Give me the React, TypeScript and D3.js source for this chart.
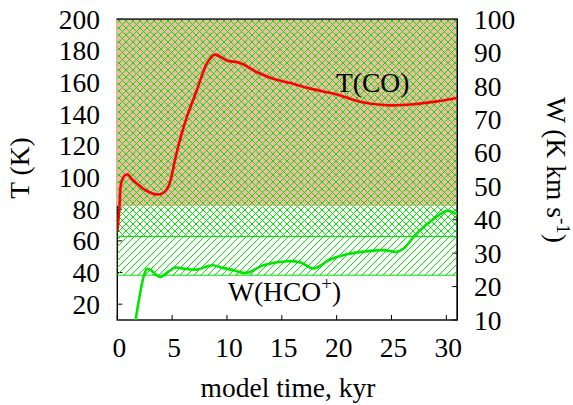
import React from "react";
import * as d3 from "d3";

// Axis ticks
const timeTicks = [0, 5, 10, 15, 20, 25, 30];
const tempTicks = [20, 40, 60, 80, 100, 120, 140, 160, 180, 200];
const widthTicks = [10, 20, 30, 40, 50, 60, 70, 80, 90, 100];

// T(CO), K, against model time (kyr)
const tcoTime = [0, 0.18, 0.37, 0.7, 1.0, 1.34, 2.0, 2.56, 3.2, 3.78, 4.3, 4.7, 5.0, 5.27, 5.8, 6.34, 7.25, 8.16, 8.77, 9.0, 9.99, 11.2, 12.7, 14.2, 15.8, 17.6, 20.0, 22.2, 24.6, 27.0, 29.2, 31.0];
const tcoValue = [65.7, 79.5, 97, 101.5, 101.8, 98.8, 95, 92, 90, 89.3, 90.8, 95, 102.5, 111.5, 126, 138.3, 155.2, 172, 177.3, 177.7, 174, 172.4, 166.7, 162.5, 159.7, 156.2, 152.5, 147.8, 145.7, 146.3, 148.2, 150.3];

// W(HCO+), K km/s, against model time (kyr)
const hcoTime = [1.6, 2.0, 2.4, 2.7, 3.0, 3.5, 3.95, 4.6, 5.3, 6.2, 7.3, 8.65, 9.6, 10.5, 11.8, 13.3, 15.5, 16.7, 17.9, 19.4, 20.95, 23.1, 24.3, 25.5, 26.1, 27.3, 28.9, 30.1, 30.8, 31.0];
const hcoValue = [8.5, 16.5, 23, 25.3, 25.1, 23.6, 22.9, 24.3, 25.7, 25.3, 25.1, 26.4, 25.6, 25.0, 24.1, 26.4, 27.6, 27.2, 25.4, 28.1, 29.7, 30.7, 30.9, 30.4, 31.4, 35.9, 40.4, 42.7, 41.9, 41.8];

// Shaded W ranges (K km/s): filled, cross-hatched and single-hatched floors
const filledFloor = 44.1;
const crossFloor = 35.0;
const hatchFloor = 23.4;

const W = 573;
const H = 405;
const left = 117.3;
const right = 457.3;
const top = 19.3;
const bottom = 320;

const FONT = "'Liberation Serif', 'DejaVu Serif', serif";
const FS = 27.5;
const GREEN = "#00e600";

export default function App() {
  const x = d3.scaleLinear().domain([0, 31]).range([left, right]);
  const yT = d3.scaleLinear().domain([10, 200]).range([bottom, top]);
  const yW = d3.scaleLinear().domain([10, 100]).range([bottom, top]);

  const line = d3
    .line<[number, number]>()
    .x((d) => d[0])
    .y((d) => d[1])
    .curve(d3.curveCatmullRom.alpha(0.5));

  const tcoPath = line(tcoTime.map((t, i) => [x(t), yT(tcoValue[i])]))!;
  const hcoPath = line(hcoTime.map((t, i) => [x(t), yW(hcoValue[i])]))!;

  const yFill = yW(filledFloor);
  const yCross = yW(crossFloor);
  const yHatch = yW(hatchFloor);

  return (
    <svg
      width={W}
      height={H}
      style={{ position: "absolute", left: 0, top: 0, background: "#fff" }}
      fontFamily={FONT}
    >
      <defs>
        <pattern id="hatchUp" patternUnits="userSpaceOnUse" width={7} height={7}>
          <path d="M0,7 L7,0 M-1,1 L1,-1 M6,8 L8,6" stroke={GREEN} strokeWidth={1} />
        </pattern>
        <pattern id="hatchDown" patternUnits="userSpaceOnUse" width={7} height={7}>
          <path d="M0,0 L7,7 M-1,6 L1,8 M6,-1 L8,1" stroke={GREEN} strokeWidth={1} />
        </pattern>
        <clipPath id="plotClip">
          <rect x={left} y={top} width={right - left} height={bottom - top} />
        </clipPath>
      </defs>

      {/* ticks, inward */}
      <g stroke="#000" strokeWidth={1}>
        {timeTicks.map((t) => (
          <line key={"xt" + t} x1={x(t)} x2={x(t)} y1={bottom} y2={bottom - 5} />
        ))}
        {tempTicks.map((v) => (
          <line key={"lt" + v} x1={left} x2={left + 5} y1={yT(v)} y2={yT(v)} />
        ))}
        {widthTicks.map((v) => (
          <line key={"rt" + v} x1={right} x2={right - 5} y1={yW(v)} y2={yW(v)} />
        ))}
      </g>

      {/* frame */}
      <rect x={left} y={top} width={right - left} height={bottom - top} fill="none" stroke="#000" strokeWidth={1.4} />

      {/* filled W range */}
      <rect x={left - 1} y={top + 0.7} width={right - left + 0.25} height={yFill - top - 0.7} fill="#f4b8a6" />

      {/* hatched W ranges */}
      <g clipPath="url(#plotClip)">
        <rect x={left} y={top} width={right - left} height={yHatch - top} fill="url(#hatchUp)" />
        <rect x={left} y={top} width={right - left} height={yCross - top} fill="url(#hatchDown)" />
        <line x1={left} x2={right} y1={yCross} y2={yCross} stroke={GREEN} strokeWidth={1} />
        <line x1={left} x2={right} y1={yHatch} y2={yHatch} stroke={GREEN} strokeWidth={1} />
      </g>

      {/* top and right borders stay visible over the fill */}
      <line x1={left - 0.7} x2={right + 0.7} y1={top} y2={top} stroke="#333" strokeWidth={1.4} />
      <line x1={right} x2={right} y1={top} y2={bottom} stroke="#000" strokeWidth={1.4} />

      {/* curves */}
      <g clipPath="url(#plotClip)" fill="none" strokeWidth={2.6} strokeLinejoin="round">
        <path d={tcoPath} stroke="#ff0000" />
        <path d={hcoPath} stroke={GREEN} />
      </g>

      {/* curve labels */}
      <text x={336} y={91.5} fontSize={FS}>T(CO)</text>
      <text x={228} y={300.5} fontSize={FS}>
        W(HCO
        <tspan dy={-11} fontSize={19}>+</tspan>
        <tspan dy={11}>)</tspan>
      </text>

      {/* tick labels */}
      <g fontSize={FS}>
        {timeTicks.map((t) => (
          <text key={"xl" + t} x={x(t) + 2} y={356.5} textAnchor="middle">{t}</text>
        ))}
        {tempTicks.map((v) => (
          <text key={"ll" + v} x={100} y={yT(v) + 9.5} textAnchor="end">{v}</text>
        ))}
        {widthTicks.map((v) => (
          <text key={"rl" + v} x={474} y={yW(v) + 9.5} textAnchor="start">{v}</text>
        ))}
      </g>

      {/* axis titles */}
      <text x={288} y={397} fontSize={FS} textAnchor="middle">model time, kyr</text>
      <text transform="translate(29,168) rotate(-90)" fontSize={FS} textAnchor="middle">T (K)</text>
      <text transform="translate(547,170) rotate(90)" fontSize={FS} textAnchor="middle">
        W (K km s
        <tspan dy={-10} fontSize={19}>-1</tspan>
        <tspan dy={10}>)</tspan>
      </text>
    </svg>
  );
}
